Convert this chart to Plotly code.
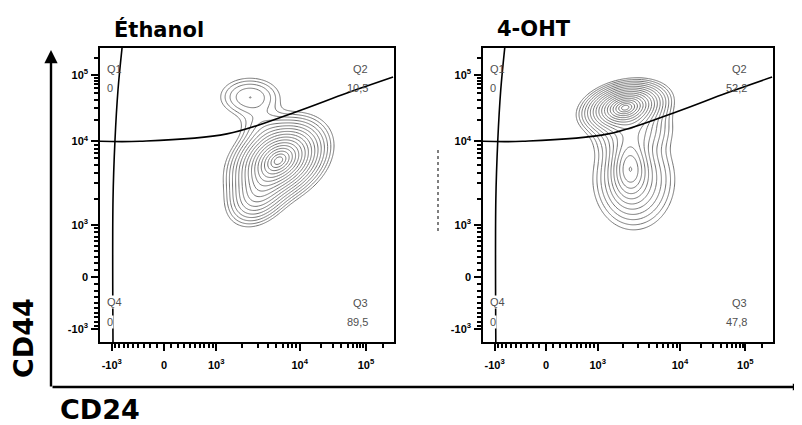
import numpy as np
import plotly.graph_objects as go

# ---------------- data ----------------
panel_titles = ["Éthanol", "4-OHT"]
x_title = "CD24"
y_title = "CD44"

major_ticks = [-1000, 0, 1000, 10000, 100000]
major_tick_text = ["-10<sup>3</sup>", "0", "10<sup>3</sup>", "10<sup>4</sup>", "10<sup>5</sup>"]
minor_ticks = ([-900, -800, -700, -600, -500, -400, -300, -200, -100,
                100, 200, 300, 400, 500, 600, 700, 800, 900]
               + [2000, 3000, 4000, 5000, 6000, 7000, 8000, 9000]
               + [20000, 30000, 40000, 50000, 60000, 70000, 80000, 90000]
               + [200000])

quadrant_names = ["Q1", "Q2", "Q3", "Q4"]
ethanol_pct = ["0", "10,5", "89,5", "0"]
oht_pct = ["0", "52,2", "47,8", "0"]

# quadrant gate (CD24, CD44)
gate_h_cd24 = [-1400, -370, 1340, 8200, 49000, 300000]
gate_h_cd44 = [10000, 10000, 12600, 25100, 50700, 92500]
gate_v_cd24 = [-964, -964, -910, -833, -735]
gate_v_cd44 = [-1500, 1940, 10400, 56500, 300000]

# populations: centre (CD24, CD44), spread (display units), correlation, peak height
eth_cd24 = [5420, 2460, 3040, 3300]
eth_cd44 = [5750, 43900, 2210, 17000]
eth_sd24 = [0.30, 0.25, 0.22, 0.20]
eth_sd44 = [0.26, 0.16, 0.22, 0.16]
eth_rho = [0.30, 0.0, 0.3, 0.0]
eth_h = [1.0, 0.12, 0.25, 0.05]

oht_cd24 = [2100, 2395, 2660, 2590]
oht_cd44 = [30800, 4700, 3300, 14260]
oht_sd24 = [0.27, 0.15, 0.30, 0.28]
oht_sd44 = [0.16, 0.25, 0.36, 0.20]
oht_rho = [0.25, 0.0, 0.0, 0.1]
oht_h = [1.0, 0.36, 0.22, 0.22]

# ---------------- biexponential-like display scale ----------------
C_SCALE, P_SCALE = 950.0, 0.47


def to_disp(v):
    v = np.asarray(v, dtype=float)
    u = np.arcsinh(np.abs(v) / C_SCALE)
    return np.sign(v) * ((1.0 + u) ** P_SCALE - 1.0) / P_SCALE


X_RANGE = [-0.933, 3.353]
Y_RANGE = [-0.948, 3.338]

gx = np.linspace(X_RANGE[0], X_RANGE[1], 280)
gy = np.linspace(Y_RANGE[0], Y_RANGE[1], 280)
GX, GY = np.meshgrid(gx, gy)


def density(c24, c44, s24, s44, rho, h):
    z = np.zeros_like(GX)
    cx = to_disp(c24)
    cy = to_disp(c44)
    for i in range(len(h)):
        dx = (GX - cx[i]) / s24[i]
        dy = (GY - cy[i]) / s44[i]
        r = rho[i]
        q = (dx * dx + dy * dy - 2 * r * dx * dy) / (1 - r * r)
        z += h[i] * np.exp(-0.5 * q)
    rr = np.sqrt(-2.0 * np.log(np.clip(z / z.max(), 1e-12, 1)))
    return np.clip(rr, 0, 6)


# page has an 8 px body margin: figure is drawn at (8, 8)
OFF = 8
FW, FH = 802 - OFF, 425 - OFF


def px(x):
    return (x - OFF) / FW


def py(y):
    return 1 - (y - OFF) / FH


panels = [
    dict(xd=[px(100), px(394)], data=(eth_cd24, eth_cd44, eth_sd24, eth_sd44, eth_rho, eth_h),
         pct=ethanol_pct, left=100, right=394),
    dict(xd=[px(483), px(773)], data=(oht_cd24, oht_cd44, oht_sd24, oht_sd44, oht_rho, oht_h),
         pct=oht_pct, left=483, right=773),
]
ydom = [py(342), py(48)]

fig = go.Figure()
tick_font = dict(family="Liberation Sans, Arial", size=11, color="black", weight="bold")
annotations = []

for i, p in enumerate(panels):
    xa = "x" if i == 0 else "x2"
    ya = "y" if i == 0 else "y2"
    z = density(*p["data"])
    fig.add_trace(go.Contour(
        x=gx, y=gy, z=z, xaxis=xa, yaxis=ya,
        contours=dict(start=0.2, end=2.7, size=0.155, coloring="none"),
        line=dict(color="#747474", width=1, smoothing=1),
        showscale=False, hoverinfo="skip"))
    fig.add_trace(go.Scatter(
        x=to_disp(gate_h_cd24), y=to_disp(gate_h_cd44), xaxis=xa, yaxis=ya,
        mode="lines", line=dict(color="black", width=1.6, shape="spline"),
        hoverinfo="skip", showlegend=False))
    fig.add_trace(go.Scatter(
        x=to_disp(gate_v_cd24), y=to_disp(gate_v_cd44), xaxis=xa, yaxis=ya,
        mode="lines", line=dict(color="black", width=1.6, shape="spline"),
        hoverinfo="skip", showlegend=False))

    axis_common = dict(
        showgrid=False, zeroline=False, showline=True, linecolor="black", linewidth=1.5,
        mirror=True, ticks="outside", ticklen=7, tickwidth=2.2, tickcolor="black",
        tickmode="array", tickvals=to_disp(major_ticks).tolist(), ticktext=major_tick_text,
        tickfont=tick_font,
        minor=dict(tickmode="array", tickvals=to_disp(minor_ticks).tolist(), ticks="outside",
                   ticklen=4, tickwidth=1.6, tickcolor="black"),
    )
    sfx = "" if i == 0 else "2"
    fig.update_layout(**{
        "xaxis" + sfx: dict(axis_common, domain=p["xd"], range=X_RANGE, anchor="y" + sfx,
                            ticklabelstandoff=5),
        "yaxis" + sfx: dict(axis_common, domain=ydom, range=Y_RANGE, anchor="x" + sfx,
                            ticklabelstandoff=1),
    })

    L, R = p["left"], p["right"]
    qfont = dict(family="Liberation Sans, Arial", size=11, color="#505050")
    specs = [
        (quadrant_names[0], p["pct"][0], L + 6, 69, 88, "left"),
        (quadrant_names[1], p["pct"][1], R - 25, 69, 88, "right"),
        (quadrant_names[2], p["pct"][2], R - 25, 303, 322, "right"),
        (quadrant_names[3], p["pct"][3], L + 6, 302, 322, "left"),
    ]
    for name, val, xx, y1, y2, anc in specs:
        bg = "white" if name == "Q4" else "rgba(0,0,0,0)"
        for txt, yy in ((name, y1), (val, y2)):
            annotations.append(dict(text=txt, x=px(xx), y=py(yy), xref="paper", yref="paper",
                                    xanchor=anc, yanchor="middle", showarrow=False,
                                    font=qfont, bgcolor=bg, borderpad=0))
    annotations.append(dict(text=panel_titles[i], x=px(L + 12), y=py(29), xref="paper", yref="paper",
                            xanchor="left", yanchor="middle", showarrow=False,
                            font=dict(family="DejaVu Sans", size=21, color="black", weight="bold")))

# outer axis titles
annotations.append(dict(text=y_title, x=px(23), y=py(338), xref="paper", yref="paper",
                        textangle=-90, showarrow=False, xanchor="center", yanchor="middle",
                        font=dict(family="DejaVu Sans", size=27, color="black", weight="bold")))
annotations.append(dict(text=x_title, x=px(58), y=py(409), xref="paper", yref="paper",
                        showarrow=False, xanchor="left", yanchor="middle",
                        font=dict(family="DejaVu Sans", size=27, color="black", weight="bold")))
# outer arrows
annotations.append(dict(x=px(51), y=py(50), xref="paper", yref="paper", ax=0, ay=338,
                        axref="pixel", ayref="pixel", text="", showarrow=True,
                        arrowhead=2, arrowsize=1.1, arrowwidth=2.4, arrowcolor="black"))
annotations.append(dict(x=px(800), y=py(387), xref="paper", yref="paper", ax=-749, ay=0,
                        axref="pixel", ayref="pixel", text="", showarrow=True,
                        arrowhead=2, arrowsize=0.6, arrowwidth=2.4, arrowcolor="black"))

fig.update_layout(
    width=FW, height=FH, margin=dict(l=0, r=0, t=0, b=0),
    paper_bgcolor="white", plot_bgcolor="white", showlegend=False,
    annotations=annotations,
    shapes=[dict(type="line", xref="paper", yref="paper", x0=px(438), x1=px(438),
                 y0=py(150), y1=py(233), line=dict(color="#555", width=1.5, dash="dot"))],
)

fig.write_html("out.html")
